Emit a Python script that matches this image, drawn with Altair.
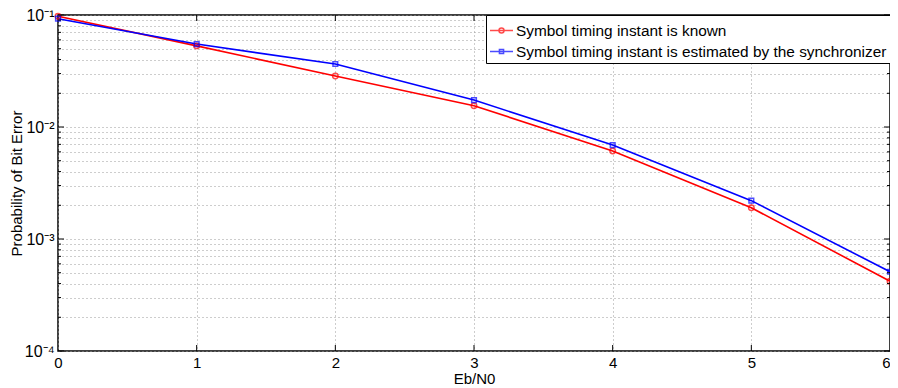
import altair as alt
import pandas as pd

# ---- data ----
ebn0 = [0, 1, 2, 3, 4, 5, 6]
ber_known = [0.0974, 0.053, 0.0285, 0.0155, 0.0061, 0.0019, 0.00042]
ber_sync = [0.0927, 0.055, 0.0365, 0.0174, 0.0069, 0.0022, 0.00051]
series_names = [
    "Symbol timing instant is known",
    "Symbol timing instant is estimated by the synchronizer",
]
series_colors = ["#ff0000", "#0000ff"]

x_ticks = [0, 1, 2, 3, 4, 5, 6]
y_major = [1e-4, 1e-3, 1e-2, 1e-1]
y_labels = ["10\u207b\u2074", "10\u207b\u00b3", "10\u207b\u00b2", "10\u207b\u00b9"]
y_minor = [k * 10.0 ** e for e in (-4, -3, -2) for k in range(2, 10)]

W, H = 832, 336
FONT = "Liberation Sans"
FS = 15

df = pd.DataFrame(
    {
        "ebn0": ebn0 * 2,
        "ber": ber_known + ber_sync,
        "series": [series_names[0]] * len(ebn0) + [series_names[1]] * len(ebn0),
    }
)
df_major = pd.DataFrame({"ber": y_major})
df_minor = pd.DataFrame({"ber": y_minor})
df_xt = pd.DataFrame({"ebn0": x_ticks[1:-1]})

xscale = alt.Scale(domain=[0, 6], nice=False, zero=False)
yscale = alt.Scale(type="log", domain=[1e-4, 1e-1], nice=False)
cscale = alt.Scale(domain=series_names, range=series_colors)

label_expr = ""
for v, lab in zip(y_major, y_labels):
    label_expr += f"datum.value == {v!r} ? '{lab}' : "
label_expr += "''"

x_enc = alt.X(
    "ebn0:Q",
    scale=xscale,
    title="Eb/N0",
    axis=alt.Axis(
        values=x_ticks,
        format="d",
        grid=True,
        gridDash=[1, 3],
        gridColor="#9a9a9a",
        ticks=False,
        domain=False,
        labelPadding=4,
        titlePadding=1,
        labelFlush=False,
        labelAlign={
            "condition": {"test": f"datum.value == {x_ticks[-1]}", "value": "right"},
            "value": "center",
        },
    ),
)
y_enc = alt.Y(
    "ber:Q",
    scale=yscale,
    title="Probability of Bit Error",
    axis=alt.Axis(
        values=y_major + y_minor,
        labelExpr=label_expr,
        labelFontSize=16,
        grid=True,
        gridDash=[1, 3],
        gridColor="#9a9a9a",
        ticks=False,
        domain=False,
        labelPadding=4,
        titlePadding=0,
        labelFlush=False,
    ),
)
X = alt.X("ebn0:Q", scale=xscale, title="Eb/N0")
Y = alt.Y("ber:Q", scale=yscale, title="Probability of Bit Error")
C = alt.Color("series:N", scale=cscale, title=None)

lines = alt.Chart(df).mark_line(strokeWidth=1.6).encode(
    x=x_enc, y=y_enc, color=C, detail="series:N"
)

pts_known = (
    alt.Chart(df)
    .transform_filter(alt.datum.series == series_names[0])
    .mark_point(shape="circle", filled=False, size=30, strokeWidth=1.5)
    .encode(x=X, y=Y, color=C)
)
pts_sync = (
    alt.Chart(df)
    .transform_filter(alt.datum.series == series_names[1])
    .mark_point(shape="square", filled=False, size=22, strokeWidth=1.5)
    .encode(x=X, y=Y, color=C)
)

circle_path = "M-1,0H1M0.22,0A0.22,0.22,0,1,1,-0.22,0A0.22,0.22,0,1,1,0.22,0"
square_path = "M-1,0H1M-0.18,-0.18H0.18V0.18H-0.18Z"

legend_layer = (
    alt.Chart(df)
    .mark_point(filled=False, opacity=0)
    .encode(
        x=X,
        y=Y,
        color=alt.Color(
            "series:N",
            scale=cscale,
            title=None,
            legend=alt.Legend(
                orient="top-right",
                offset=0,
                padding=3,
                strokeColor="black",
                fillColor="white",
                labelFont=FONT,
                labelFontSize=15.4,
                labelColor="black",
                labelLimit=600,
                labelOffset=2,
                symbolSize=529,
                symbolStrokeWidth=1.5,
                rowPadding=-2,
            ),
        ),
        shape=alt.Shape(
            "series:N",
            title=None,
            scale=alt.Scale(domain=series_names, range=[circle_path, square_path]),
        ),
    )
)

tick_col = "black"
ymaj_l = alt.Chart(df_major).mark_rule(color=tick_col, strokeWidth=1).encode(
    y=Y, x=alt.value(0), x2=alt.value(6)
)
ymaj_r = alt.Chart(df_major).mark_rule(color=tick_col, strokeWidth=1).encode(
    y=Y, x=alt.value(W), x2=alt.value(W - 6)
)
ymin_l = alt.Chart(df_minor).mark_rule(color=tick_col, strokeWidth=1).encode(
    y=Y, x=alt.value(0), x2=alt.value(3)
)
ymin_r = alt.Chart(df_minor).mark_rule(color=tick_col, strokeWidth=1).encode(
    y=Y, x=alt.value(W), x2=alt.value(W - 3)
)
xt_b = alt.Chart(df_xt).mark_rule(color=tick_col, strokeWidth=1).encode(
    x=X, y=alt.value(H), y2=alt.value(H - 6)
)
xt_t = alt.Chart(df_xt).mark_rule(color=tick_col, strokeWidth=1).encode(
    x=X, y=alt.value(0), y2=alt.value(6)
)

chart = (
    alt.layer(
        lines, pts_known, pts_sync, ymaj_l, ymaj_r, ymin_l, ymin_r, xt_b, xt_t,
        legend_layer,
    )
    .properties(
        width=W,
        height=H,
        autosize=alt.AutoSizeParams(type="none"),
        padding={"left": 50, "top": 7, "right": 0, "bottom": 37},
        background="white",
    )
    .configure_view(stroke="black", strokeWidth=1.5)
    .configure_axis(
        labelFont=FONT,
        titleFont=FONT,
        labelFontSize=FS,
        titleFontSize=FS,
        titleFontWeight="normal",
        labelColor="black",
        titleColor="black",
        gridOpacity=1,
        gridWidth=1,
    )
)

chart.save("out.html", embed_options={"renderer": "svg", "actions": False})
